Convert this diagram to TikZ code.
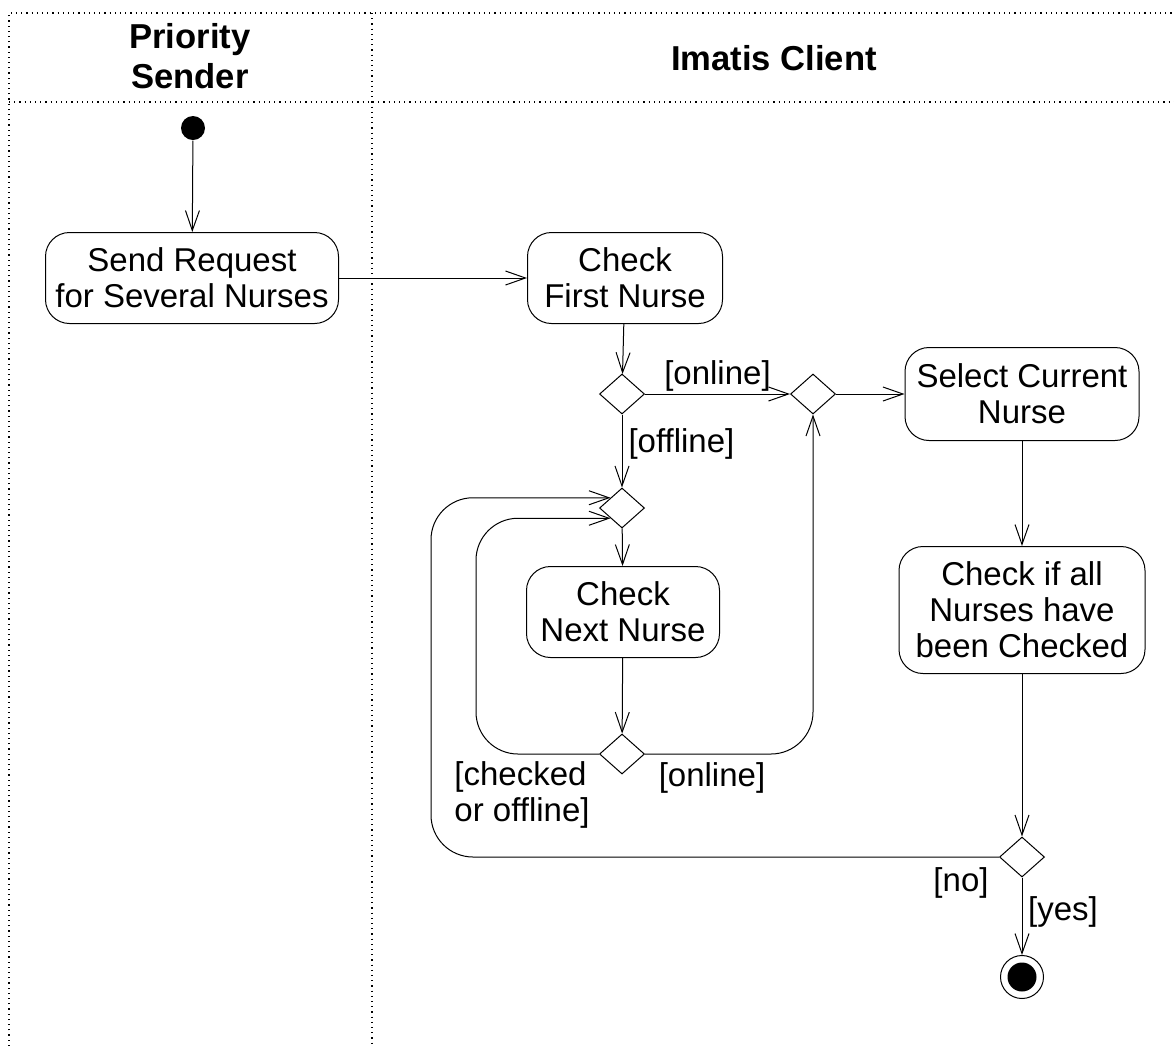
\documentclass[tikz,border=0pt]{standalone}
\usepackage{fontspec}
\setmainfont{Liberation Sans}
\usepackage{tikz}
\usetikzlibrary{calc,shapes,arrows,arrows.meta}

\tikzset{
    activity/.style={draw, rounded corners=12pt, align=center, inner sep=0pt,
        minimum height=45.5pt},
    choice/.style={draw, diamond, inner sep=0pt, minimum width=22.5pt,
        minimum height=20pt},
    flow/.style={-{Straight Barb[length=10pt,width=7pt]}},
    guard/.style={inner sep=1pt, align=left},
    lane/.style={dotted, line width=0.6pt},
}

\begin{document}
\begin{tikzpicture}[x=0.5pt, y=-0.5pt, line width=0.5pt,
        font=\fontsize{16.5}{18}\selectfont]
    \useasboundingbox (0,0) rectangle (1174,1046);
    % swimlanes
    \draw[lane] (9,1046) -- (9,13) -- (1174,13);
    \draw[lane] (9,102) -- (1174,102);
    \draw[lane] (372,13) -- (372,1046);
    \node[align=center, font=\fontsize{17.3}{20}\selectfont\bfseries] (sender) at (190,56) {Priority\\Sender};
    \node[font=\fontsize{17.3}{20}\selectfont\bfseries] (client) at (774,58) {Imatis Client};

    \node[circle, fill, inner sep=0pt, minimum size=12pt] (start) at (193,128) {};
    \node[activity, minimum width=146.5pt] (send) at (192,278) {Send Request\\for Several Nurses};
    \node[activity, minimum width=97.5pt] (first) at (625,278) {Check\\First Nurse};
    \node[choice] (d1) at (622,394) {};
    \node[choice] (d2) at (813,394) {};
    \node[activity, minimum width=117pt, minimum height=46.5pt] (select) at (1022,394) {Select Current\\Nurse};
    \node[choice] (d3) at (622,508) {};
    \node[activity, minimum width=96.5pt] (next) at (623,612) {Check\\Next Nurse};
    \node[choice] (d4) at (622,754) {};
    \node[activity, minimum width=123pt, minimum height=63.5pt] (checkall) at (1022,610) {Check if all\\Nurses have\\been Checked};
    \node[choice] (d5) at (1022,857) {};
    \node[circle, draw, inner sep=0pt, minimum size=21.5pt] (stop) at (1022,977) {};
    \node[circle, fill, inner sep=0pt, minimum size=14.5pt] at (stop) {};

    \draw[flow] (start) -- (send);
    \draw[flow] (send) -- (first);
    \draw[flow] (first) -- (d1);
    \draw[flow] (d1) -- node[guard, above=0pt] {[online]} (d2);
    \draw[flow] (d2) -- (select);
    \draw[flow] (d1) -- node[guard, right=2pt, pos=0.4] {[offline]} (d3);
    \draw[flow] (d3) -- (next);
    \draw[flow] (next) -- (d4);
    \draw[flow, rounded corners=21pt] (d4.east) -| (d2.south);
    \draw[flow, rounded corners=21pt] (d4.west) -- (476,754) |- (d3.south west);
    \draw[flow, rounded corners=21pt] (d5.west) -- (431,857) |- (d3.north west);
    \draw[flow] (select) -- (checkall);
    \draw[flow] (checkall) -- (d5);
    \draw[flow] (d5) -- (stop);

    \node[guard] (lonline) at (712,778) {[online]};
    \node[guard] (lchecked) at (522,795) {[checked\\or offline]};
    \node[guard] (lno) at (961,883) {[no]};
    \node[guard] (lyes) at (1063,912) {[yes]};
\end{tikzpicture}
\end{document}
